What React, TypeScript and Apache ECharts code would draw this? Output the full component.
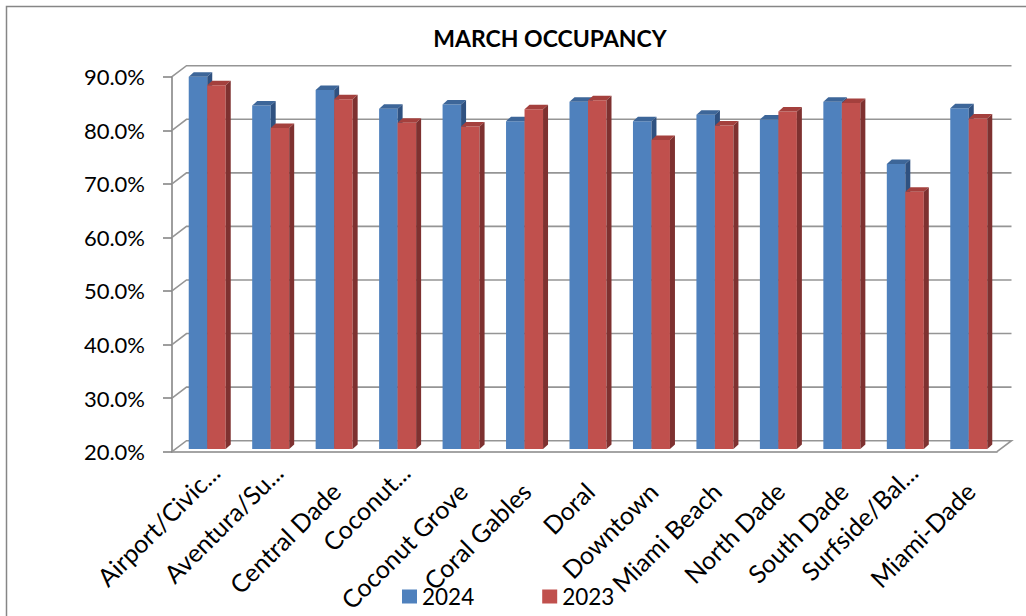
import React, { useEffect, useRef } from "react";
import * as echarts from "echarts";

const categories = [
  "Airport/Civic...",
  "Aventura/Su...",
  "Central Dade",
  "Coconut...",
  "Coconut Grove",
  "Coral Gables",
  "Doral",
  "Downtown",
  "Miami Beach",
  "North Dade",
  "South Dade",
  "Surfside/Bal...",
  "Miami-Dade",
];
const values2024 = [89.5, 84.1, 87.0, 83.5, 84.3, 81.2, 84.8, 81.2, 82.4, 81.5, 84.8, 73.2, 83.6];
const values2023 = [87.9, 79.9, 85.3, 80.9, 80.2, 83.4, 85.1, 77.7, 80.4, 83.0, 84.6, 68.0, 81.7];
const yTicks = [20, 30, 40, 50, 60, 70, 80, 90];
const seriesNames = ["2024", "2023"];

const Y_MIN = 20;
const Y_MAX = 90;
const Y_STEP = 10;

const FONT = 'Lato, "Open Sans", sans-serif';
const AXIS_COLOR = "#868686";
const GRID_COLOR = "#959595";

// 3D look
const WALL_DX = 14.5;
const WALL_DY = -11;
const BAR_SHIFT_X = 3.5;
const BAR_SHIFT_Y = -2.7;
const BAR_RATIO = 0.2915;
const DEPTH_DX = 5;
const DEPTH_DY = -4.5;

const palettes = [
  { front: "#4F81BD", top: "#3D6699", side: "#2F5180" },
  { front: "#C0504D", top: "#A4403D", side: "#7E3130" },
];

function barRenderer(seriesIdx: number) {
  const pal = palettes[seriesIdx];
  return (params: any, api: any) => {
    const i = api.value(0);
    const v = api.value(1);
    const top = api.coord([i, v]);
    const base = api.coord([i, Y_MIN]);
    const band = api.size([1, 0])[0];
    const bw = band * BAR_RATIO;
    const cx = top[0] + BAR_SHIFT_X;
    const yt = top[1] + BAR_SHIFT_Y;
    const yb = base[1] + BAR_SHIFT_Y;
    const x0 = seriesIdx === 0 ? cx - bw : cx;
    const x1 = x0 + bw;
    return {
      type: "group",
      children: [
        {
          type: "rect",
          shape: { x: x0, y: yt, width: bw, height: yb - yt },
          style: { fill: pal.front },
        },
        {
          type: "polygon",
          shape: {
            points: [
              [x0, yt],
              [x0 + DEPTH_DX, yt + DEPTH_DY],
              [x1 + DEPTH_DX, yt + DEPTH_DY],
              [x1, yt],
            ],
          },
          style: { fill: pal.top },
        },
        {
          type: "polygon",
          shape: {
            points: [
              [x1, yt],
              [x1 + DEPTH_DX, yt + DEPTH_DY],
              [x1 + DEPTH_DX, yb + DEPTH_DY],
              [x1, yb],
            ],
          },
          style: { fill: pal.side },
        },
      ],
    };
  };
}

function wallRenderer(params: any, api: any) {
  const v = api.value(1);
  const cs = params.coordSys;
  const p = api.coord([0, v]);
  const y = p[1];
  const gx = cs.x;
  const gw = cs.width;
  const pts: number[][] = [
    [gx, y],
    [gx + WALL_DX, y + WALL_DY],
    [gx + gw + WALL_DX, y + WALL_DY],
  ];
  if (v === Y_MIN) pts.push([gx + gw, y]);
  return {
    type: "polyline",
    shape: { points: pts },
    style: { stroke: GRID_COLOR, lineWidth: 1.6, fill: "none" },
  };
}

function labelRenderer(params: any, api: any) {
  const i = api.value(0);
  const p = api.coord([i, Y_MIN]);
  const text = categories[params.dataIndex];
  const truncated = text.endsWith("...");
  const ax = p[0] + (truncated ? 11 : 5);
  const ay = p[1] + (truncated ? 16 : 35);
  return {
    type: "text",
    x: ax,
    y: ay,
    rotation: Math.PI / 4,
    style: {
      text,
      fill: "#000",
      font: `25px ${FONT}`,
      align: "right",
      verticalAlign: "middle",
    },
  };
}

export default function App() {
  const ref = useRef<HTMLDivElement>(null);
  useEffect(() => {
    document.body.style.margin = "0";
    if (!ref.current) return;
    const chart = echarts.init(ref.current, undefined, { renderer: "svg" });
    chart.setOption({
      animation: false,
      backgroundColor: "#fff",
      graphic: [
        {
          type: "rect",
          shape: { x: 6.5, y: 6.5, width: 1060, height: 660 },
          style: { fill: "none", stroke: AXIS_COLOR, lineWidth: 1.5 },
          silent: true,
        },
        {
          type: "text",
          x: 550,
          y: 38,
          style: {
            text: "MARCH OCCUPANCY",
            font: `bold 23px ${FONT}`,
            fill: "#000",
            align: "center",
            verticalAlign: "middle",
          },
          silent: true,
        },
      ],
      legend: {
        data: seriesNames,
        left: 402,
        top: 585,
        padding: 0,
        icon: "rect",
        itemWidth: 15,
        itemHeight: 14,
        itemGap: 68,
        selectedMode: false,
        textStyle: { fontSize: 22.5, fontFamily: FONT, color: "#000" },
      },
      grid: { left: 172, top: 76.7, width: 825, height: 375 },
      xAxis: {
        type: "category",
        data: categories,
        axisLabel: { show: false },
        axisLine: { lineStyle: { color: AXIS_COLOR, width: 1.6 } },
        axisTick: { length: 8, lineStyle: { color: AXIS_COLOR, width: 1.6 } },
        splitLine: { show: false },
      },
      yAxis: {
        type: "value",
        min: Y_MIN,
        max: Y_MAX,
        interval: Y_STEP,
        axisLine: { show: true, lineStyle: { color: AXIS_COLOR, width: 1.6 } },
        axisTick: { show: true, length: 9, lineStyle: { color: AXIS_COLOR, width: 1.6 } },
        splitLine: { show: false },
        axisLabel: {
          margin: 27,
          fontSize: 22,
          fontFamily: FONT,
          color: "#000",
          padding: [5, 0, 0, 0],
          formatter: (v: number) => v.toFixed(1) + "%",
        },
      },
      series: [
        {
          name: "wall",
          type: "custom",
          silent: true,
          clip: false,
          z: 1,
          renderItem: wallRenderer,
          encode: { x: 0, y: 1 },
          data: yTicks.map((v) => [0, v]),
        },
        {
          name: seriesNames[0],
          type: "custom",
          silent: true,
          clip: false,
          z: 3,
          itemStyle: { color: palettes[0].front },
          renderItem: barRenderer(0),
          encode: { x: 0, y: 1 },
          data: values2024.map((v, i) => [i, v]),
        },
        {
          name: seriesNames[1],
          type: "custom",
          silent: true,
          clip: false,
          z: 3,
          itemStyle: { color: palettes[1].front },
          renderItem: barRenderer(1),
          encode: { x: 0, y: 1 },
          data: values2023.map((v, i) => [i, v]),
        },
        {
          name: "labels",
          type: "custom",
          silent: true,
          clip: false,
          z: 4,
          renderItem: labelRenderer,
          encode: { x: 0, y: 1 },
          data: categories.map((_, i) => [i, Y_MIN]),
        },
      ],
    });
    return () => chart.dispose();
  }, []);
  return <div ref={ref} style={{ width: 1026, height: 616 }} />;
}
